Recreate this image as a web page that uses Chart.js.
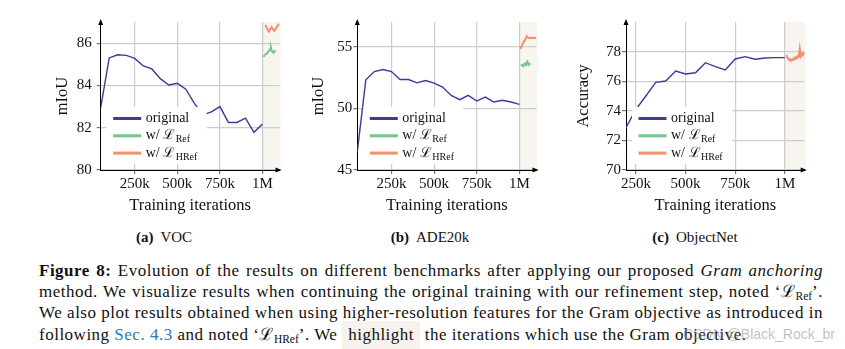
<!DOCTYPE html>
<html>
<head>
<meta charset="utf-8">
<script src="https://cdn.jsdelivr.net/npm/chart.js@4.4.1/dist/chart.umd.min.js"></script>
<style>
  html, body { margin: 0; padding: 0; background: #fff; }
  #page { position: relative; width: 845px; height: 349px; overflow: hidden; background: #fff;
          font-family: "Liberation Serif", "DejaVu Serif", serif; color: #111; }
  #page canvas { position: absolute; top: 0; }
  .sub { position: absolute; top: 228px; font-size: 15px; line-height: 18px; white-space: nowrap; transform: translateX(-50%); }
  .sub b { margin-right: 7px; }
  .cap { position: absolute; left: 39px; width: 784px; font-size: 17px; letter-spacing: 0.5px; line-height: 21px;
         white-space: nowrap; text-align: justify; text-align-last: justify; }
  .cap.last { text-align: left; text-align-last: left; }
  .cap sub { font-size: 11.5px; vertical-align: -3px; line-height: 0; letter-spacing: 0; }
  .ref { color: #2b7bb5; }
  .hl { background: #f7f2ec; padding: 4px 6px 5px 6px; }
  .wm { position: absolute; right: 10px; top: 326px; font-family: "Liberation Sans", "DejaVu Sans", sans-serif;
        font-size: 14px; color: rgba(140,140,140,0.55); white-space: nowrap; }
</style>
</head>
<body>
<div id="page">
  <canvas id="voc" width="285" height="225" style="left:0px"></canvas>
  <canvas id="ade" width="270" height="225" style="left:285px"></canvas>
  <canvas id="obj" width="290" height="225" style="left:555px"></canvas>

  <div class="sub" style="left:164px"><b>(a)</b>VOC</div>
  <div class="sub" style="left:430px"><b>(b)</b>ADE20k</div>
  <div class="sub" style="left:695px"><b>(c)</b>ObjectNet</div>

  <div class="cap" style="top:260px"><b>Figure 8:</b> Evolution of the results on different benchmarks after applying our proposed <i>Gram anchoring</i></div>
  <div class="cap" style="top:281px">method. We visualize results when continuing the original training with our refinement step, noted ‘ℒ<sub>Ref</sub>’.</div>
  <div class="cap" style="top:302px">We also plot results obtained when using higher-resolution features for the Gram objective as introduced in</div>
  <div class="cap last" style="top:324px">following <span class="ref">Sec. 4.3</span> and noted ‘ℒ<sub>HRef</sub>’. We <span class="hl">highlight</span> the iterations which use the Gram objective.</div>
  <div class="wm">CSDN @Black_Rock_br</div>
</div>

<script>
// ---- shared axis ticks ----
const xTickValues = [250000, 500000, 750000, 1000000];
const xTickLabels = ['250k', '500k', '750k', '1M'];
const seriesLabels = ['original', 'w/ ℒ_Ref', 'w/ ℒ_HRef'];

// ---- (a) VOC ----
const vocIters = [50000, 100000, 150000, 200000, 250000, 300000, 350000, 400000, 450000, 500000,
                  550000, 600000, 650000, 700000, 750000, 800000, 850000, 900000, 950000, 1000000];
const vocOriginal = [82.95, 85.3, 85.45, 85.42, 85.28, 84.92, 84.78, 84.32, 84.02, 84.1,
                     83.82, 83.15, 82.6, 82.75, 83.0, 82.25, 82.25, 82.45, 81.78, 82.18];
const vocRefIters = [1005000, 1015000, 1025000, 1035000, 1045000, 1050000, 1055000, 1065000, 1070000, 1078000];
const vocRef = [85.35, 85.45, 85.5, 85.6, 85.72, 85.78, 85.62, 85.55, 85.63, 85.6];
const vocHRefIters = [1015000, 1020000, 1030000, 1037000, 1045000, 1054000, 1060000, 1068000, 1080000, 1093000, 1100000];
const vocHRef = [86.85, 86.8, 86.65, 86.55, 86.65, 86.76, 86.68, 86.58, 86.7, 86.88, 86.85];
const vocYTicks = [80, 82, 84, 86];

// ---- (b) ADE20k ----
const adeIters = vocIters;
const adeOriginal = [46.48, 52.31, 52.98, 53.15, 52.98, 52.34, 52.34, 52.07, 52.26, 52.04,
                     51.72, 51.05, 50.7, 51.05, 50.59, 50.91, 50.51, 50.65, 50.51, 50.32];
const adeRefIters = [1008000, 1015000, 1022000, 1030000, 1038000, 1045000, 1050000, 1058000, 1065000];
const adeRef = [53.55, 53.5, 53.42, 53.62, 53.5, 53.78, 53.65, 53.58, 53.6];
const adeHRefIters = [1005000, 1015000, 1023000, 1033000, 1043000, 1050000, 1058000, 1070000, 1080000, 1090000, 1100000];
const adeHRef = [54.8, 55.1, 55.35, 55.55, 55.85, 55.75, 55.68, 55.72, 55.7, 55.72, 55.7];
const adeYTicks = [45, 50, 55];

// ---- (c) ObjectNet ----
const objIters = [200000, 250000, 300000, 350000, 400000, 450000, 500000, 550000, 600000,
                  650000, 700000, 750000, 800000, 850000, 900000, 950000, 1000000];
const objOriginal = [72.86, 74.1, 75.0, 75.92, 76.01, 76.69, 76.49, 76.57, 77.25,
                     76.98, 76.76, 77.5, 77.66, 77.48, 77.57, 77.59, 77.59];
const objRefIters = [];
const objRef = [];
const objHRefIters = [1005000, 1010000, 1015000, 1020000, 1025000, 1030000, 1035000, 1040000, 1045000, 1050000,
                      1055000, 1060000, 1065000, 1070000, 1075000, 1080000, 1085000, 1090000, 1095000, 1100000];
const objHRef = [77.75, 77.7, 77.55, 77.45, 77.5, 77.38, 77.45, 77.42, 77.55, 77.48,
                 77.62, 77.55, 77.7, 77.65, 78.2, 77.7, 77.85, 77.75, 77.88, 77.82];
const objYTicks = [70, 72, 74, 76, 78];

// ---- styling ----
const SERIF = '"Liberation Serif", "DejaVu Serif", serif';
const BLUE = '#3a3c9c';
const GREEN = '#72c592';
const ORANGE = '#f3916f';
const BAND = '#f8f4ef';
const GRID = '#cdcdcd';
const GRAM_START = 1000000;

const zip = (xs, ys) => xs.map((x, i) => ({ x: x, y: ys[i] }));

// shaded region for the iterations trained with the Gram objective
const bandPlugin = {
  id: 'gramBand',
  beforeDraw(chart) {
    const { ctx, chartArea: a, scales } = chart;
    const x0 = scales.x.getPixelForValue(GRAM_START);
    ctx.save();
    ctx.fillStyle = BAND;
    ctx.fillRect(x0, a.top, a.right - x0 + 1, a.bottom - a.top);
    ctx.restore();
  }
};

// legend drawn in the lower-left corner of the plot, on a white box
const legendPlugin = {
  id: 'cornerLegend',
  afterDatasetsDraw(chart) {
    const { ctx, chartArea: a } = chart;
    ctx.save();
    ctx.fillStyle = '#fff';
    ctx.fillRect(a.left + 6, a.bottom - 63, 100, 57);
    chart.data.datasets.forEach((ds, i) => {
      const y = a.bottom - 51.5 + i * 17.3;
      ctx.strokeStyle = ds.borderColor;
      ctx.lineWidth = 3;
      ctx.beginPath();
      ctx.moveTo(a.left + 12.5, y);
      ctx.lineTo(a.left + 40.5, y);
      ctx.stroke();
      const parts = ds.label.split('_');
      ctx.fillStyle = '#111';
      ctx.textBaseline = 'middle';
      ctx.textAlign = 'left';
      ctx.font = '14px ' + SERIF;
      ctx.fillText(parts[0], a.left + 45, y);
      if (parts[1]) {
        const w = ctx.measureText(parts[0]).width;
        ctx.font = '10px ' + SERIF;
        ctx.fillText(parts[1], a.left + 45 + w + 0.5, y + 4);
      }
    });
    ctx.restore();
  }
};

// arrow heads at the ends of both axes
const arrowPlugin = {
  id: 'axisArrows',
  afterDraw(chart) {
    const { ctx, chartArea: a } = chart;
    ctx.save();
    ctx.fillStyle = '#000';
    ctx.beginPath();
    ctx.moveTo(a.left, a.top - 3);
    ctx.lineTo(a.left - 2.5, a.top + 3);
    ctx.lineTo(a.left + 2.5, a.top + 3);
    ctx.closePath();
    ctx.fill();
    ctx.beginPath();
    ctx.moveTo(a.right + 2, a.bottom);
    ctx.lineTo(a.right - 4, a.bottom - 2.5);
    ctx.lineTo(a.right - 4, a.bottom + 2.5);
    ctx.closePath();
    ctx.fill();
    ctx.restore();
  }
};

function makeChart(id, cfg) {
  return new Chart(document.getElementById(id), {
    type: 'line',
    data: {
      datasets: [
        { label: seriesLabels[0], data: zip(cfg.iters, cfg.original), borderColor: BLUE, borderWidth: 1.4 },
        { label: seriesLabels[1], data: zip(cfg.refIters, cfg.ref), borderColor: GREEN, borderWidth: 2 },
        { label: seriesLabels[2], data: zip(cfg.hrefIters, cfg.href), borderColor: ORANGE, borderWidth: 2 }
      ]
    },
    options: {
      responsive: false,
      animation: false,
      devicePixelRatio: 1,
      layout: { padding: cfg.padding },
      elements: { point: { radius: 0 }, line: { tension: 0 } },
      plugins: { legend: { display: false }, tooltip: { enabled: false } },
      scales: {
        x: {
          type: 'linear',
          min: cfg.xMin,
          max: 1100000,
          afterBuildTicks: s => { s.ticks = xTickValues.map(v => ({ value: v })); },
          afterFit: s => { s.height = 46; },
          ticks: {
            callback: (v, i) => xTickLabels[i],
            font: { family: SERIF, size: 15 },
            color: '#111',
            padding: 1,
            maxRotation: 0,
            autoSkip: false
          },
          grid: { color: GRID, lineWidth: 1.2, tickLength: 4, tickColor: '#777' },
          border: { color: '#000', width: 1 },
          title: { display: true, text: 'Training iterations', font: { family: SERIF, size: 16.5 }, color: '#111', padding: 0 }
        },
        y: {
          min: cfg.yMin,
          max: cfg.yMax,
          afterBuildTicks: s => { s.ticks = cfg.yTicks.map(v => ({ value: v })); },
          afterFit: s => { s.width = cfg.yWidth; },
          ticks: {
            callback: v => String(v),
            font: { family: SERIF, size: 15 },
            color: '#111',
            padding: cfg.yLabelPad
          },
          grid: { color: GRID, lineWidth: 1.2, tickLength: 4, tickColor: '#777' },
          border: { color: '#000', width: 1 },
          title: { display: true, text: cfg.yTitle, font: { family: SERIF, size: 16.5 }, color: '#111', padding: 0 }
        }
      }
    },
    plugins: [bandPlugin, legendPlugin, arrowPlugin]
  });
}

makeChart('voc', {
  iters: vocIters, original: vocOriginal,
  refIters: vocRefIters, ref: vocRef,
  hrefIters: vocHRefIters, href: vocHRef,
  xMin: 50000, yMin: 80, yMax: 87, yTicks: vocYTicks, yTitle: 'mIoU',
  yWidth: 48.3, yLabelPad: 5,
  padding: { left: 52.4, right: 5.5, top: 22, bottom: 9 }
});

makeChart('ade', {
  iters: adeIters, original: adeOriginal,
  refIters: adeRefIters, ref: adeRef,
  hrefIters: adeHRefIters, href: adeHRef,
  xMin: 50000, yMin: 45, yMax: 57, yTicks: adeYTicks, yTitle: 'mIoU',
  yWidth: 48.9, yLabelPad: 1,
  padding: { left: 23.4, right: 18.5, top: 22, bottom: 9 }
});

makeChart('obj', {
  iters: objIters, original: objOriginal,
  refIters: objRefIters, ref: objRef,
  hrefIters: objHRefIters, href: objHRef,
  xMin: 200000, yMin: 70, yMax: 80, yTicks: objYTicks, yTitle: 'Accuracy',
  yWidth: 52.6, yLabelPad: 1,
  padding: { left: 18.4, right: 40.3, top: 22, bottom: 9 }
});
</script>
</body>
</html>
